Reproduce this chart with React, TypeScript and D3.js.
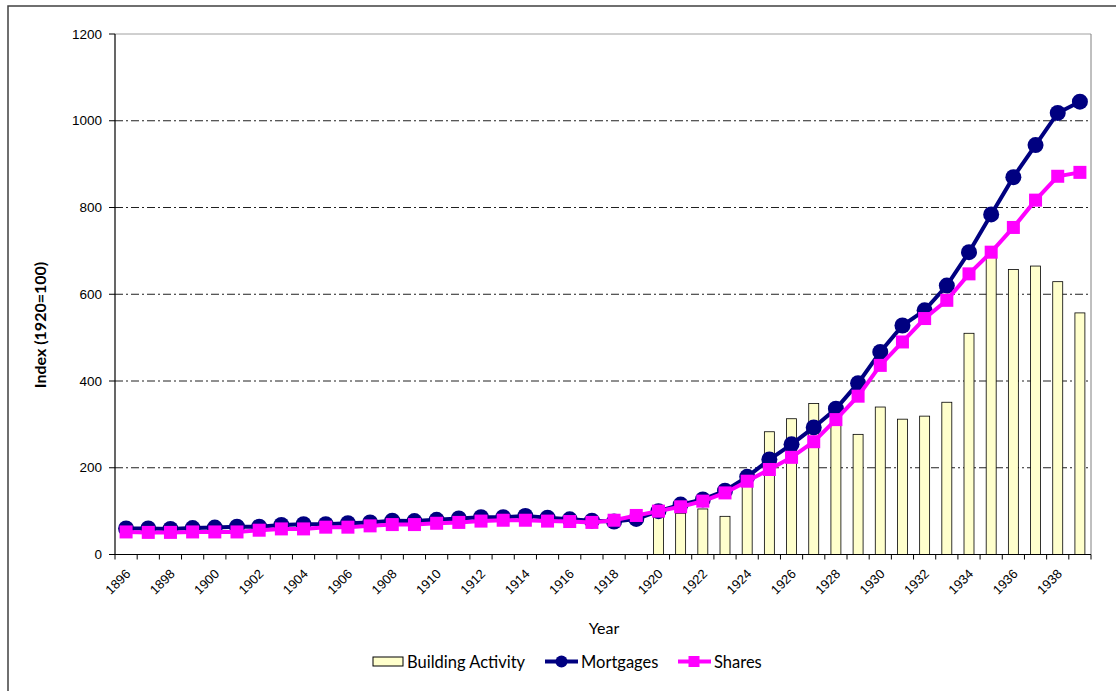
import React from "react";
import * as d3 from "d3";

const years: number[] = d3.range(1896, 1940);

const mortgages: number[] = [
  60, 60, 59, 61, 62, 64, 64, 68, 70, 70, 72, 74, 78, 77, 80, 83, 86, 86, 89, 85,
  81, 78, 76, 82, 100, 115, 127, 147, 179, 219, 254, 293, 336, 395, 467, 528, 563,
  620, 697, 784, 870, 944, 1018, 1044,
];

const shares: number[] = [
  52, 51, 51, 52, 52, 52, 56, 59, 59, 63, 63, 66, 69, 69, 72, 74, 77, 79, 79, 77,
  76, 74, 79, 90, 100, 110, 123, 142, 169, 196, 224, 260, 311, 365, 436, 490, 544,
  586, 647, 697, 754, 817, 872, 881,
];

const buildingYears: number[] = d3.range(1920, 1940);
const building: number[] = [
  100, 95, 105, 88, 165, 283, 313, 348, 302, 277, 340, 312, 319, 351, 510, 690,
  657, 665, 629, 557,
];

const yTicks: number[] = [0, 200, 400, 600, 800, 1000, 1200];
const gridValues: number[] = [200, 400, 600, 800, 1000];

const NAVY = "#000080";
const MAGENTA = "#FF00FF";
const BAR_FILL = "#FFFFCC";
const AXIS_FONT = "'Liberation Sans', Arial, sans-serif";
const LABEL_FONT = "Lato, 'Open Sans', sans-serif";

export default function App() {
  const width = 1116;
  const height = 691;
  const left = 115;
  const right = 1091;
  const top = 34;
  const bottom = 554.5;

  const x = d3.scaleBand<number>().domain(years).range([left, right]).padding(0);
  const y = d3.scaleLinear().domain([0, 1200]).range([bottom, top]);
  const cx = (yr: number) => (x(yr) as number) + x.bandwidth() / 2;
  const barW = x.bandwidth() * 0.45;

  const line = d3
    .line<number>()
    .x((_, i) => cx(years[i]))
    .y((v) => y(v));

  const boundaries = d3.range(years.length + 1).map((i) => left + i * x.bandwidth());
  const sq = 13;

  return (
    <svg
      width={width}
      height={height}
      style={{ position: "absolute", left: 0, top: 0, background: "#fff" }}
    >
      {/* outer chart frame */}
      <rect x={8} y={6} width={1200} height={800} fill="#fff" stroke="#404040" strokeWidth={1.5} />

      {/* plot frame (top and right) */}
      <line x1={left} x2={right} y1={top} y2={top} stroke="#a0a0a0" strokeWidth={1} />
      <line x1={right} x2={right} y1={top} y2={bottom} stroke="#808080" strokeWidth={1} />

      {/* horizontal dash-dot gridlines */}
      {gridValues.map((v) => (
        <line
          key={v}
          x1={left}
          x2={right}
          y1={y(v)}
          y2={y(v)}
          stroke="#202020"
          strokeWidth={1}
          strokeDasharray="8,3,2,3"
        />
      ))}

      {/* building activity bars */}
      {buildingYears.map((yr, i) => (
        <rect
          key={yr}
          x={cx(yr) - barW / 2}
          y={y(building[i])}
          width={barW}
          height={bottom - y(building[i])}
          fill={BAR_FILL}
          stroke="#000"
          strokeWidth={0.8}
        />
      ))}

      {/* axes */}
      <line x1={left} x2={left} y1={top} y2={bottom} stroke="#000" strokeWidth={1.2} />
      <line x1={left} x2={right} y1={bottom} y2={bottom} stroke="#000" strokeWidth={1.2} />
      {yTicks.map((v) => (
        <g key={v}>
          <line x1={left - 6} x2={left} y1={y(v)} y2={y(v)} stroke="#000" strokeWidth={1} />
          <text
            x={left - 13}
            y={y(v)}
            dy="0.35em"
            textAnchor="end"
            fontFamily={AXIS_FONT}
            fontSize={13.5}
            fill="#000"
          >
            {v}
          </text>
        </g>
      ))}
      {boundaries.map((bx, i) => (
        <line key={i} x1={bx} x2={bx} y1={bottom} y2={bottom + 5} stroke="#000" strokeWidth={1} />
      ))}
      {years
        .filter((yr) => (yr - 1896) % 2 === 0)
        .map((yr) => (
          <text
            key={yr}
            transform={`translate(${cx(yr) + 2},${bottom + 17}) rotate(-45)`}
            textAnchor="end"
            dy="0.35em"
            fontFamily={AXIS_FONT}
            fontSize={13}
            fill="#000"
          >
            {yr}
          </text>
        ))}

      {/* mortgages series */}
      <path d={line(mortgages) ?? ""} fill="none" stroke={NAVY} strokeWidth={4} />
      {mortgages.map((v, i) => (
        <circle key={i} cx={cx(years[i])} cy={y(v)} r={8} fill={NAVY} />
      ))}

      {/* shares series */}
      <path d={line(shares) ?? ""} fill="none" stroke={MAGENTA} strokeWidth={4} />
      {shares.map((v, i) => (
        <rect
          key={i}
          x={cx(years[i]) - sq / 2}
          y={y(v) - sq / 2}
          width={sq}
          height={sq}
          fill={MAGENTA}
        />
      ))}

      {/* axis titles */}
      <text
        transform={`translate(46,325) rotate(-90)`}
        textAnchor="middle"
        fontFamily={LABEL_FONT}
        fontWeight="bold"
        fontSize={16}
        fill="#000"
      >
        Index (1920=100)
      </text>
      <text x={604} y={634} textAnchor="middle" fontFamily={LABEL_FONT} fontSize={16} fill="#000">
        Year
      </text>

      {/* legend */}
      <rect x={373} y={657} width={30} height={9} fill={BAR_FILL} stroke="#000" strokeWidth={1} />
      <text x={407} y={668} fontFamily={LABEL_FONT} fontSize={16.5} fill="#000">
        Building Activity
      </text>
      <line x1={545} x2={578} y1={661.5} y2={661.5} stroke={NAVY} strokeWidth={4} />
      <circle cx={561.5} cy={661.5} r={6} fill={NAVY} />
      <text x={581} y={668} fontFamily={LABEL_FONT} fontSize={16.5} fill="#000">
        Mortgages
      </text>
      <line x1={678} x2={711} y1={661.5} y2={661.5} stroke={MAGENTA} strokeWidth={4} />
      <rect x={688.5} y={656} width={11} height={11} fill={MAGENTA} />
      <text x={714} y={668} fontFamily={LABEL_FONT} fontSize={16.5} fill="#000">
        Shares
      </text>
    </svg>
  );
}
